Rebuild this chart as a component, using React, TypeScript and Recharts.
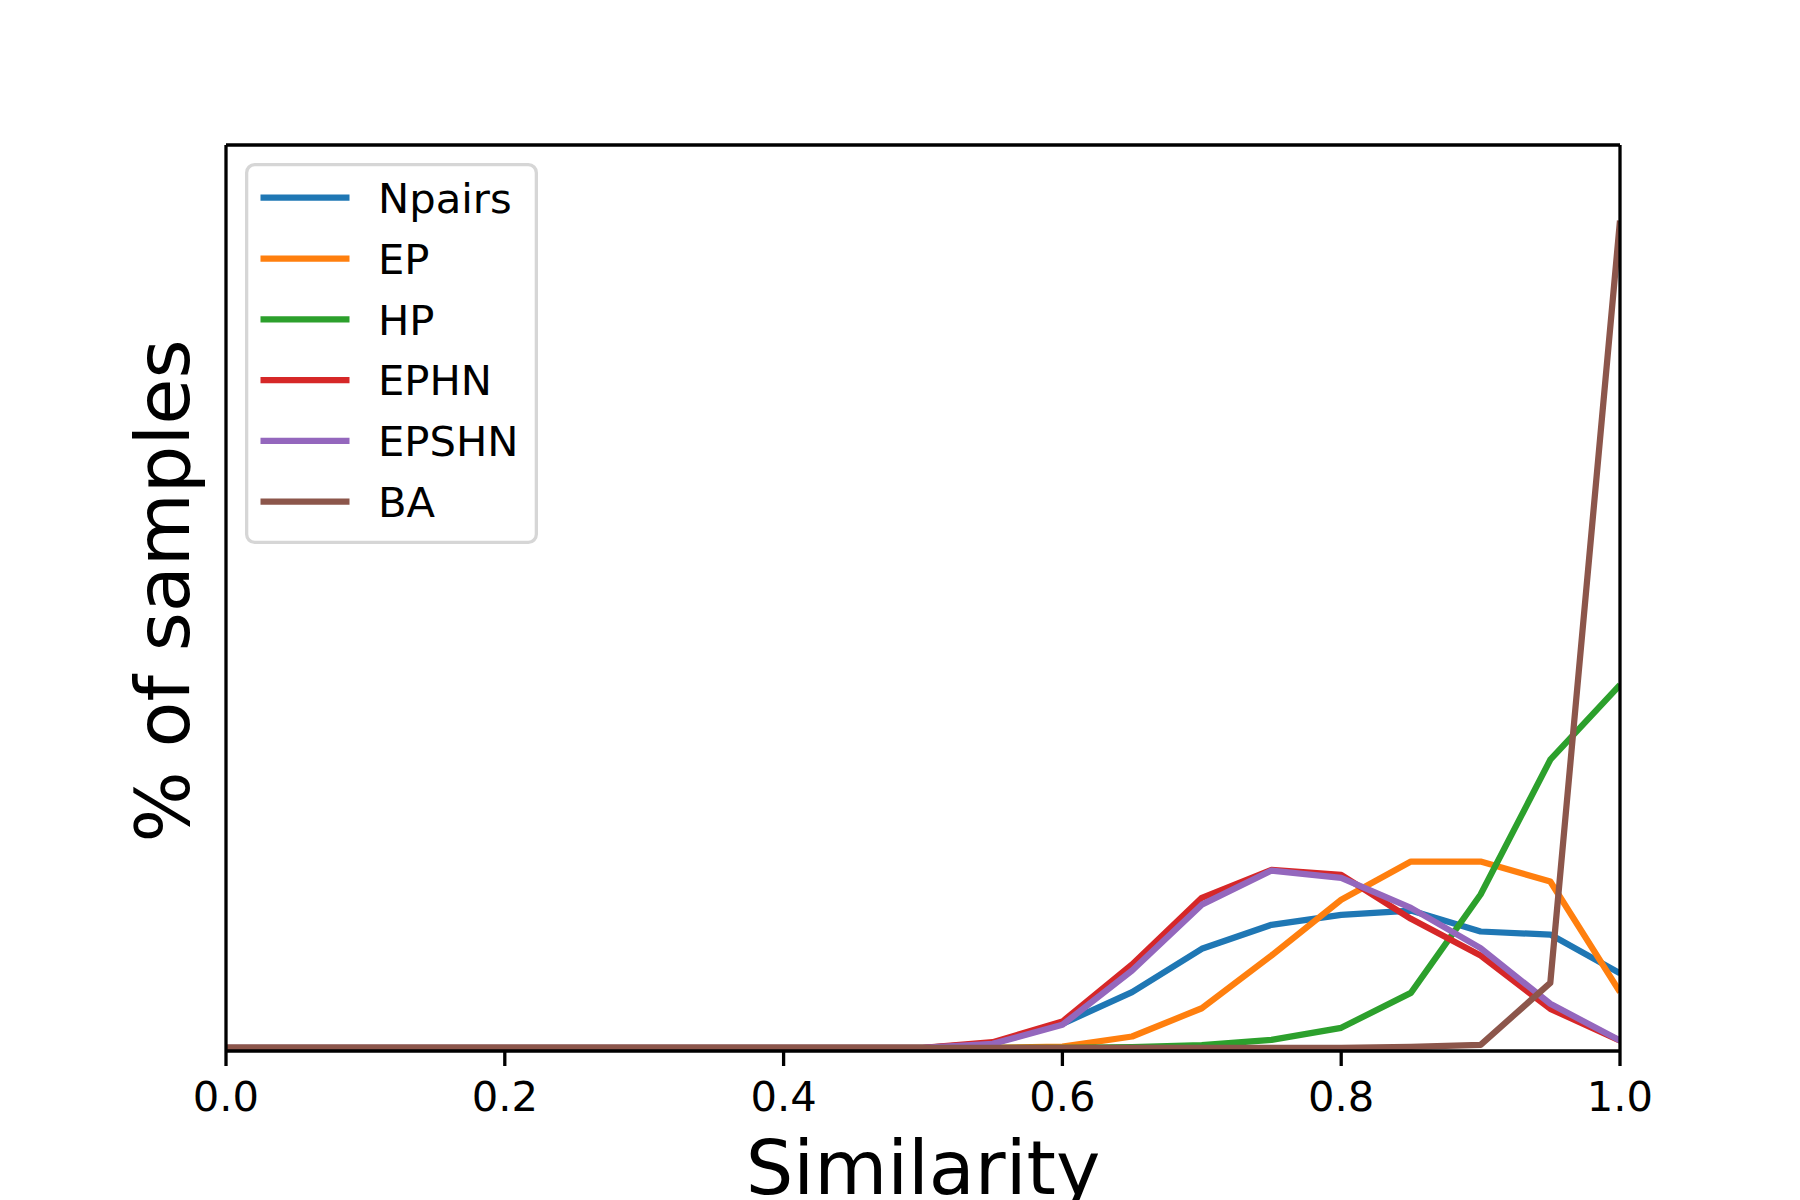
import React from 'react';
import { LineChart, Line, XAxis, YAxis, Legend } from 'recharts';

// x positions (similarity bins)
const similarity = [0, 0.05, 0.1, 0.15, 0.2, 0.25, 0.3, 0.35, 0.4, 0.45, 0.5, 0.55, 0.6, 0.65, 0.7, 0.75, 0.8, 0.85, 0.9, 0.95, 1.0];

// % of samples per series
const npairs = [0, 0, 0, 0, 0, 0, 0, 0, 0, 0, 0, 0.5, 2.65, 6.14, 10.93, 13.58, 14.68, 15.15, 12.84, 12.5, 8.23];
const ep = [0, 0, 0, 0, 0, 0, 0, 0, 0, 0, 0, 0, 0.14, 1.25, 4.37, 10.19, 16.34, 20.56, 20.56, 18.36, 6.14];
const hp = [0, 0, 0, 0, 0, 0, 0, 0, 0, 0, 0, 0, 0, 0.07, 0.29, 0.88, 2.21, 6.07, 16.92, 31.8, 40.07];
const ephn = [0, 0, 0, 0, 0, 0, 0, 0, 0, 0, 0, 0.62, 2.9, 9.2, 16.56, 19.65, 19.09, 14.24, 10.19, 4.3, 0.8];
const epshn = [0, 0, 0, 0, 0, 0, 0, 0, 0, 0, 0, 0.44, 2.54, 8.53, 15.8, 19.57, 18.76, 15.45, 11.0, 4.86, 0.8];
const ba = [0, 0, 0, 0, 0, 0, 0, 0, 0, 0, 0, 0, 0, 0, 0, 0, 0, 0.1, 0.33, 7.17, 91.3];

const seriesNames = ['Npairs', 'EP', 'HP', 'EPHN', 'EPSHN', 'BA'];
const seriesValues = [npairs, ep, hp, ephn, epshn, ba];
const seriesColors = ['#1f77b4', '#ff7f0e', '#2ca02c', '#d62728', '#9467bd', '#8c564b'];

const xTicks = [0, 0.2, 0.4, 0.6, 0.8, 1.0];
const yDomain = [-0.35, 99.65];

const data = similarity.map((x, i) => {
  const row: Record<string, number> = { x };
  seriesNames.forEach((n, k) => {
    row[n] = seriesValues[k][i];
  });
  return row;
});

const FONT = 'DejaVu Sans';

const LegendBox = (props: any) => {
  const payload = [...(props.payload || [])].sort(
    (a: any, b: any) => seriesNames.indexOf(String(a.value)) - seriesNames.indexOf(String(b.value))
  );
  return (
    <svg width={293} height={381} style={{ display: 'block', overflow: 'visible' }}>
      <rect x={1.65} y={1.65} width={289.7} height={377.7} rx={8} ry={8} fill="#ffffff" fillOpacity={0.8} stroke="#d6d6d6" strokeWidth={3.3} />
      {payload.map((p: any, i: number) => {
        const cy = 34.7 + i * 60.8;
        return (
          <g key={String(p.value)}>
            <line x1={15.5} x2={104.5} y1={cy} y2={cy} stroke={p.color} strokeWidth={6.25} />
            <text x={133} y={cy + 15.2} fontSize={41.7} fontFamily={FONT} fill="#000">
              {p.value}
            </text>
          </g>
        );
      })}
    </svg>
  );
};

const XLabel = (props: any) => {
  const vb = props.viewBox || { x: 226, y: 1051, width: 1394, height: 100 };
  return (
    <text x={vb.x + vb.width / 2} y={vb.y + 142.7} textAnchor="middle" fontSize={75} fontFamily={FONT} fill="#000">
      Similarity
    </text>
  );
};

const YLabel = (props: any) => {
  const vb = props.viewBox || { x: 225, y: 145, width: 1, height: 906 };
  const cx = vb.x + vb.width - 37;
  const cy = vb.y + vb.height / 2 - 7;
  return (
    <text x={cx} y={cy} transform={`rotate(-90 ${cx} ${cy})`} textAnchor="middle" fontSize={75} fontFamily={FONT} fill="#000">
      % of samples
    </text>
  );
};

const axisStroke = { stroke: '#000', strokeWidth: 3.3 };

export default function App() {
  return (
    <div style={{ position: 'absolute', left: 0, top: 0, fontFamily: FONT }}>
      <LineChart width={1800} height={1200} data={data} margin={{ top: 144, left: 225, right: 179, bottom: 49 }}>
        {seriesNames.map((n, k) => (
          <Line
            key={n}
            type="linear"
            dataKey={n}
            name={n}
            stroke={seriesColors[k]}
            strokeWidth={6.25}
            strokeLinejoin="round"
            dot={false}
            activeDot={false}
            isAnimationActive={false}
          />
        ))}
        <XAxis
          dataKey="x"
          type="number"
          domain={[0, 1]}
          ticks={xTicks}
          interval={0}
          tickFormatter={(v: number) => v.toFixed(1)}
          tick={{ fontSize: 41.7, fill: '#000', fontFamily: FONT }}
          tickSize={15}
          tickMargin={15}
          tickLine={axisStroke}
          axisLine={axisStroke}
          height={100}
          allowDataOverflow
          label={<XLabel />}
        />
        <XAxis
          xAxisId="top"
          orientation="top"
          dataKey="x"
          type="number"
          domain={[0, 1]}
          height={1}
          tick={false}
          tickLine={false}
          axisLine={axisStroke}
          allowDataOverflow
        />
        <YAxis
          type="number"
          domain={yDomain}
          width={1}
          tick={false}
          tickLine={false}
          axisLine={axisStroke}
          allowDataOverflow
          label={<YLabel />}
        />
        <YAxis
          yAxisId="right"
          orientation="right"
          type="number"
          domain={yDomain}
          width={1}
          tick={false}
          tickLine={false}
          axisLine={axisStroke}
          allowDataOverflow
        />
        <Legend
          layout="vertical"
          align="center"
          verticalAlign="middle"
          content={<LegendBox />}
          wrapperStyle={{ left: 244.5, top: 163, width: 293, height: 381 }}
        />
      </LineChart>
    </div>
  );
}
